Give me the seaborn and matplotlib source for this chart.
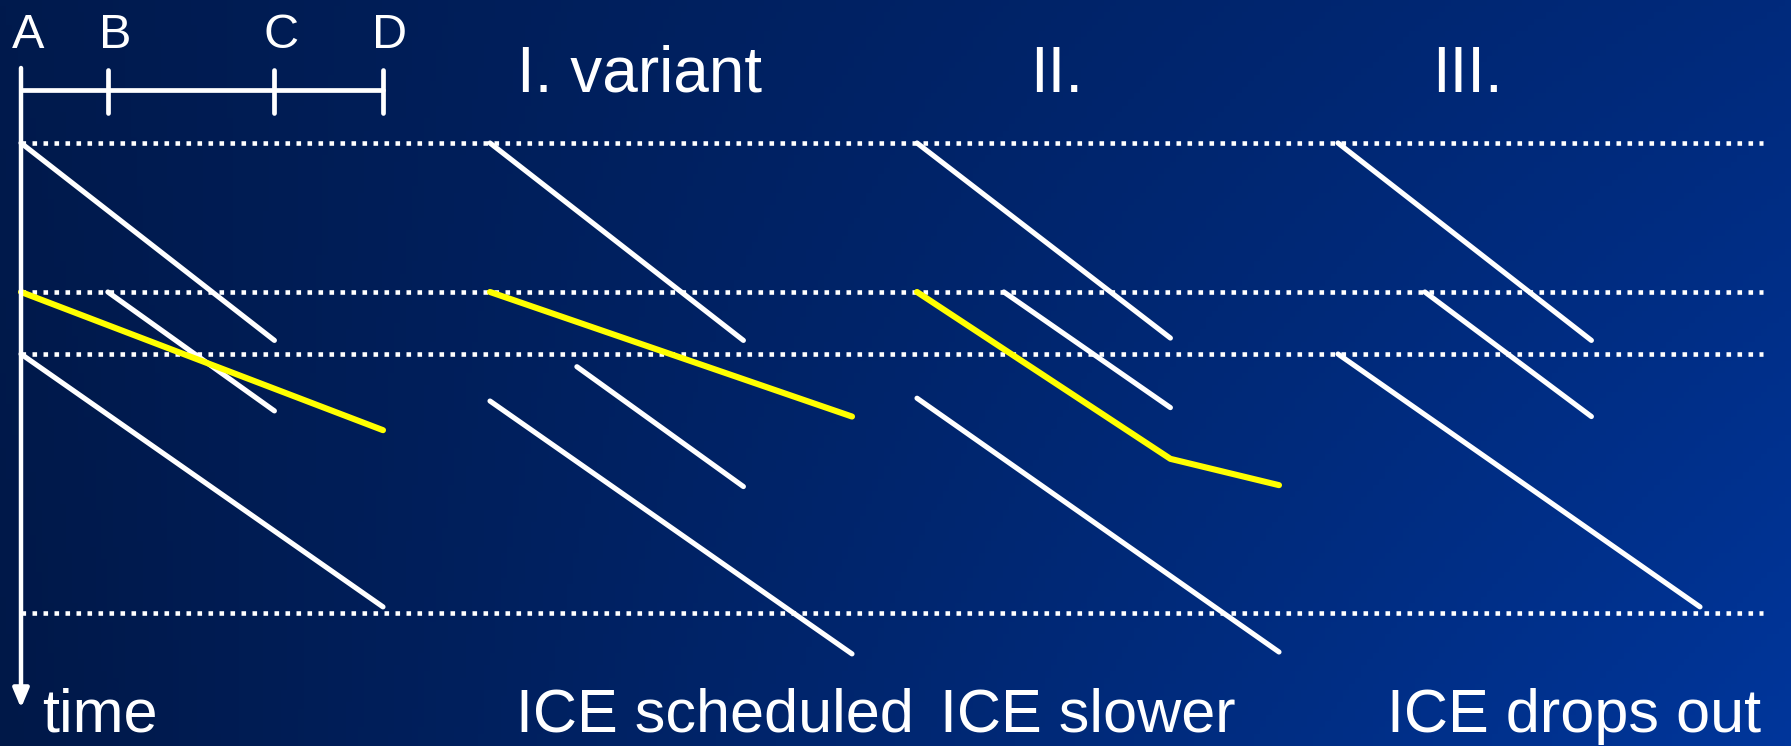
import numpy as np
import pandas as pd
import matplotlib
matplotlib.use('Agg')
import matplotlib.pyplot as plt
import seaborn as sns

# --- Data: a train time-distance diagram, four variants side by side ---
stations = ['A', 'B', 'C', 'D']
station_km = [0, 24, 70, 100]
grid_min = [0, 31.7, 44.9, 100]

panel_titles = ['', 'I. variant', 'II.', 'III.']
panel_notes = ['time', 'ICE scheduled', 'ICE slower', 'ICE drops out']

# regional trains: run id, panel, station, minute
reg_run = [0, 0, 1, 1, 2, 2,
           3, 3, 4, 4, 5, 5,
           6, 6, 7, 7, 8, 8,
           9, 9, 10, 10, 11, 11]
reg_panel = [0] * 6 + [1] * 6 + [2] * 6 + [3] * 6
reg_station = ['A', 'C', 'B', 'C', 'A', 'D'] * 4
reg_min = [0, 42, 31.7, 57.0, 44.9, 98.7,
           0, 42, 47.6, 73.1, 54.9, 108.7,
           0, 41.5, 31.7, 56.3, 54.3, 108.3,
           0, 42, 31.7, 58.2, 44.9, 98.7]

# the ICE (yellow); none in panel III
ice_run = [0, 0, 1, 1, 2, 2, 2]
ice_panel = [0, 0, 1, 1, 2, 2, 2]
ice_station = ['A', 'D', 'A', 'D', 'A', 'C', 'D']
ice_min = [31.7, 61.1, 31.7, 58.2, 31.7, 67.2, 72.8]

# --- Layout (pixels of the 1791x746 output) ---
W, H = 1791, 746
KM_PX = 3.62          # pixels per km
MIN_PX = 4.7          # pixels per minute
X0, Y0 = 21, 143      # pixel position of station A and minute 0
PANEL_SHIFT = [0, 469, 896, 1317]   # horizontal shift of each panel, px


def px_x(p):
    return (p - X0) / KM_PX


def px_y(p):
    return (p - Y0) / MIN_PX


def build(run, panel, station, minute):
    km = dict(zip(stations, station_km))
    df = pd.DataFrame({'run': run, 'panel': panel, 'station': station, 'min': minute})
    df['km'] = [km[s] + PANEL_SHIFT[p] / KM_PX for s, p in zip(df['station'], df['panel'])]
    return df


reg_df = build(reg_run, reg_panel, reg_station, reg_min)
ice_df = build(ice_run, ice_panel, ice_station, ice_min)

sns.set_style('white')
plt.rcParams['font.family'] = ['Liberation Sans', 'DejaVu Sans']

fig = plt.figure(figsize=(W / 100, H / 100), dpi=100)
ax = fig.add_axes([0, 0, 1, 1])
xlim = (px_x(0), px_x(W))
ylim = (px_y(H), px_y(0))

# background gradient (dark navy -> blue)
tl, tr = np.array([0, 26, 77]), np.array([0, 42, 124])
bl, br = np.array([0, 24, 72]), np.array([0, 54, 155])
gx = np.linspace(0, 1, 300)[None, :, None]
gy = np.linspace(0, 1, 120)[:, None, None]
grad = (tl * (1 - gx) * (1 - gy) + tr * gx * (1 - gy) + bl * (1 - gx) * gy + br * gx * gy) / 255
ax.imshow(grad, extent=(xlim[0], xlim[1], ylim[0], ylim[1]), aspect='auto', zorder=0)

# dotted reference times
ax.hlines(grid_min, 0, px_x(1763), colors='white', linewidth=3.3,
          linestyles=(0, (1, 1.4)), zorder=1)

# trains
sns.lineplot(data=reg_df, x='km', y='min', units='run', estimator=None, sort=False,
             color='white', linewidth=3.7, ax=ax, zorder=3)
sns.lineplot(data=ice_df, x='km', y='min', units='run', estimator=None, sort=False,
             color='#ffff00', linewidth=4.4, ax=ax, zorder=4)

# time axis with arrow
ax.annotate('', xy=(0, px_y(708)), xytext=(0, px_y(68)),
            arrowprops=dict(arrowstyle='-|>,head_length=0.95,head_width=0.4',
                            mutation_scale=12, color='white', lw=3.2,
                            shrinkA=0, shrinkB=0), zorder=5)

# distance scale at the top
ax.plot([0, station_km[-1]], [px_y(90), px_y(90)], color='white', lw=3.4, zorder=5)
for s, k in zip(stations, station_km):
    if k > 0:
        ax.plot([k, k], [px_y(70), px_y(113)], color='white', lw=3.4, zorder=5)
    ax.text(k + 7 / KM_PX, px_y(48), s, color='white', fontsize=35,
            ha='center', va='baseline', zorder=6)

# titles and notes
title_x = [0, 517, 1030, 1432]
note_x = [42, 516, 940, 1387]
for i in range(4):
    if panel_titles[i]:
        fig.text(title_x[i] / W, 1 - 92 / H, panel_titles[i], color='white',
                 fontsize=46, ha='left', va='baseline')
    fig.text(note_x[i] / W, 1 - 732 / H, panel_notes[i], color='white',
             fontsize=44, ha='left', va='baseline')

ax.set_xlim(xlim)
ax.set_ylim(ylim)
ax.axis('off')

fig.savefig('out.png', dpi=100)
